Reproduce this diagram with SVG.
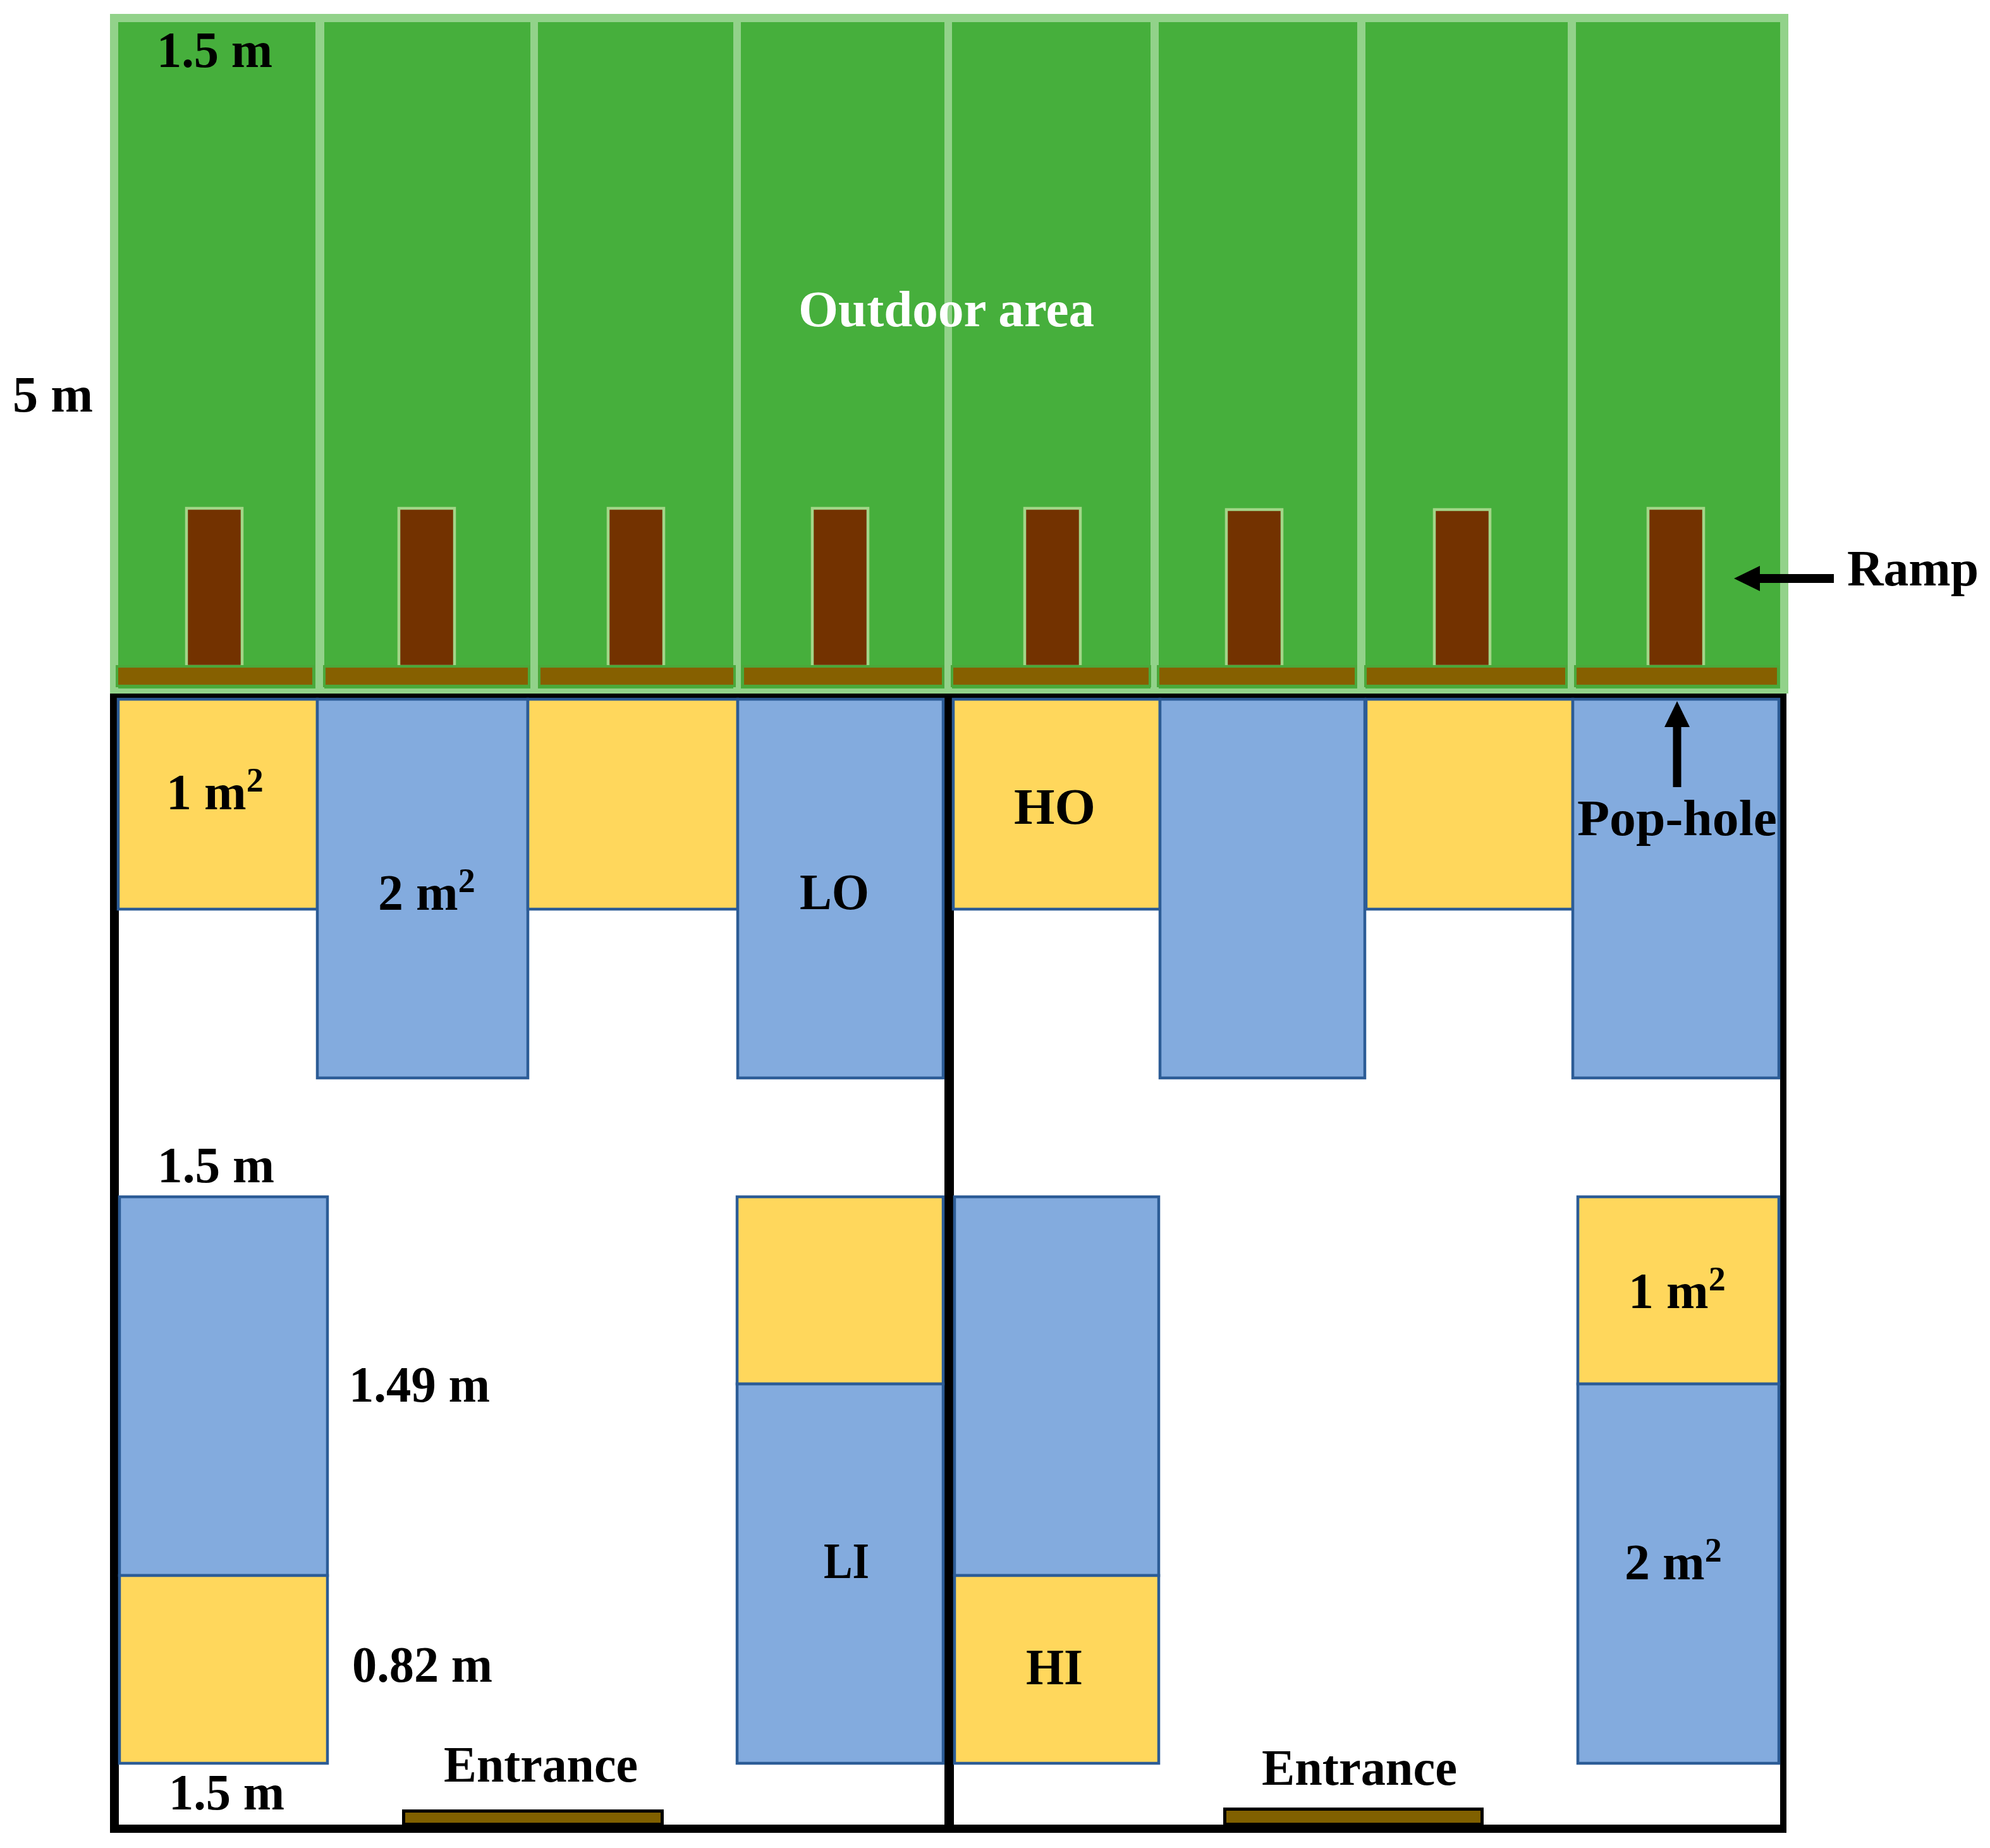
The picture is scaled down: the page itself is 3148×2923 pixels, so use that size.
<svg xmlns="http://www.w3.org/2000/svg" width="3148" height="2923" viewBox="0 0 3148 2923">
<style>
.cell{fill:#46AF3C}
.ramp{fill:#733200;stroke:#A2D688;stroke-width:4.5}
.bar{fill:#866000;stroke:#4BA83A;stroke-width:4}
.y{fill:#FFD75C;stroke:#2C5C96;stroke-width:4.5}
.b{fill:#83ABDE;stroke:#2C5C96;stroke-width:4.5}
.ent{fill:#806000;stroke:#000;stroke-width:5}
text{font-family:"Liberation Serif","Times New Roman",serif;font-weight:700;font-size:80px;fill:#000}
.sup{font-size:54px}
</style>
<defs>
<marker id="head" markerUnits="userSpaceOnUse" viewBox="0 0 41 40" refX="0" refY="20" markerWidth="41" markerHeight="40" orient="auto"><path d="M0 0L41 20L0 40Z" fill="#000"/></marker>
</defs>
<rect width="3148" height="2923" fill="#fff"/>
<g id="outdoor-area">
<rect x="174" y="22" width="2655" height="1075" fill="#92D28A"/>
<rect class="cell" x="187" y="35" width="312" height="1054"/>
<rect class="cell" x="513" y="35" width="326" height="1054"/>
<rect class="cell" x="851" y="35" width="309" height="1054"/>
<rect class="cell" x="1172" y="35" width="322" height="1054"/>
<rect class="cell" x="1506" y="35" width="314" height="1054"/>
<rect class="cell" x="1833" y="35" width="314" height="1054"/>
<rect class="cell" x="2160" y="35" width="320" height="1054"/>
<rect class="cell" x="2493" y="35" width="323" height="1054"/>
</g>
<g id="ramps">
<rect class="ramp" x="295" y="804" width="88" height="250"/>
<rect class="ramp" x="631" y="804" width="88" height="250"/>
<rect class="ramp" x="962" y="804" width="88" height="250"/>
<rect class="ramp" x="1285" y="804" width="88" height="250"/>
<rect class="ramp" x="1621" y="804" width="88" height="250"/>
<rect class="ramp" x="1940" y="806" width="88" height="248"/>
<rect class="ramp" x="2269" y="806" width="88" height="248"/>
<rect class="ramp" x="2607" y="804" width="88" height="250"/>
</g>
<g id="ramp-bars">
<rect class="bar" x="185" y="1054" width="311" height="31"/>
<rect class="bar" x="513" y="1054" width="324" height="31"/>
<rect class="bar" x="853" y="1054" width="309" height="31"/>
<rect class="bar" x="1175" y="1054" width="317" height="31"/>
<rect class="bar" x="1506" y="1054" width="313" height="31"/>
<rect class="bar" x="1832" y="1054" width="313" height="31"/>
<rect class="bar" x="2160" y="1054" width="318" height="31"/>
<rect class="bar" x="2492" y="1054" width="321" height="31"/>
</g>
<g id="frame">
<path d="M174 1097H2826V2899H174ZM188 1105V2886H2816V1105Z" fill="#000" fill-rule="evenodd"/>
<rect x="1494" y="1097" width="15" height="1795" fill="#000"/>
</g>
<g id="top-pens">
<rect id="pen-y1" class="y" x="187" y="1106" width="315" height="332"/>
<rect id="pen-b2" class="b" x="502" y="1106" width="333" height="599"/>
<rect id="pen-y3" class="y" x="835" y="1106" width="332" height="332"/>
<rect id="pen-b4" class="b" x="1167" y="1106" width="325" height="599"/>
<rect id="pen-y5" class="y" x="1508" y="1106" width="327" height="332"/>
<rect id="pen-b6" class="b" x="1835" y="1106" width="324" height="599"/>
<rect id="pen-y7" class="y" x="2161" y="1106" width="327" height="332"/>
<rect id="pen-b8" class="b" x="2488" y="1106" width="326" height="599"/>
</g>
<g id="bottom-pens">
<rect id="pen-b9" class="b" x="189" y="1893" width="329" height="599"/>
<rect id="pen-y10" class="y" x="189" y="2492" width="329" height="297"/>
<rect id="pen-y11" class="y" x="1166" y="1893" width="326" height="296"/>
<rect id="pen-b12" class="b" x="1166" y="2189" width="326" height="600"/>
<rect id="pen-b13" class="b" x="1510" y="1893" width="323" height="599"/>
<rect id="pen-y14" class="y" x="1510" y="2492" width="323" height="297"/>
<rect id="pen-y15" class="y" x="2496" y="1893" width="318" height="296"/>
<rect id="pen-b16" class="b" x="2496" y="2189" width="318" height="600"/>
</g>
<g id="entrances">
<rect id="entrance-left" class="ent" x="638.5" y="2864.5" width="409" height="21"/>
<rect id="entrance-right" class="ent" x="1937.5" y="2861.5" width="407" height="24"/>
</g>
<g id="connectors">
<line x1="2901" y1="915" x2="2784" y2="915" stroke="#000" stroke-width="14" marker-end="url(#head)"/>
<line x1="2653" y1="1245" x2="2653" y2="1150" stroke="#000" stroke-width="13" marker-end="url(#head)"/>
</g>
<g id="labels">
<text x="248" y="106" textLength="183" lengthAdjust="spacingAndGlyphs">1.5 m</text>
<text x="1263" y="516" textLength="468" lengthAdjust="spacingAndGlyphs" style="fill:#fff">Outdoor area</text>
<text x="20" y="651" textLength="127" lengthAdjust="spacingAndGlyphs">5 m</text>
<text x="2922" y="926" textLength="208" lengthAdjust="spacingAndGlyphs">Ramp</text>
<text x="2495" y="1321" textLength="316" lengthAdjust="spacingAndGlyphs">Pop-hole</text>
<text x="263" y="1280">1 m<tspan class="sup" dy="-28">2</tspan></text>
<text x="598" y="1439">2 m<tspan class="sup" dy="-28">2</tspan></text>
<text x="1265" y="1438" textLength="110" lengthAdjust="spacingAndGlyphs">LO</text>
<text x="1604" y="1303" textLength="129" lengthAdjust="spacingAndGlyphs">HO</text>
<text x="249" y="1870" textLength="185" lengthAdjust="spacingAndGlyphs">1.5 m</text>
<text x="552" y="2217" textLength="223" lengthAdjust="spacingAndGlyphs">1.49 m</text>
<text x="557" y="2660" textLength="222" lengthAdjust="spacingAndGlyphs">0.82 m</text>
<text x="267" y="2862" textLength="183" lengthAdjust="spacingAndGlyphs">1.5 m</text>
<text x="702" y="2818" textLength="307" lengthAdjust="spacingAndGlyphs">Entrance</text>
<text x="1996" y="2823" textLength="309" lengthAdjust="spacingAndGlyphs">Entrance</text>
<text x="1303" y="2496" textLength="72" lengthAdjust="spacingAndGlyphs">LI</text>
<text x="1623" y="2664" textLength="90" lengthAdjust="spacingAndGlyphs">HI</text>
<text x="2576" y="2069">1 m<tspan class="sup" dy="-28">2</tspan></text>
<text x="2570" y="2498">2 m<tspan class="sup" dy="-28">2</tspan></text>
</g>
</svg>
